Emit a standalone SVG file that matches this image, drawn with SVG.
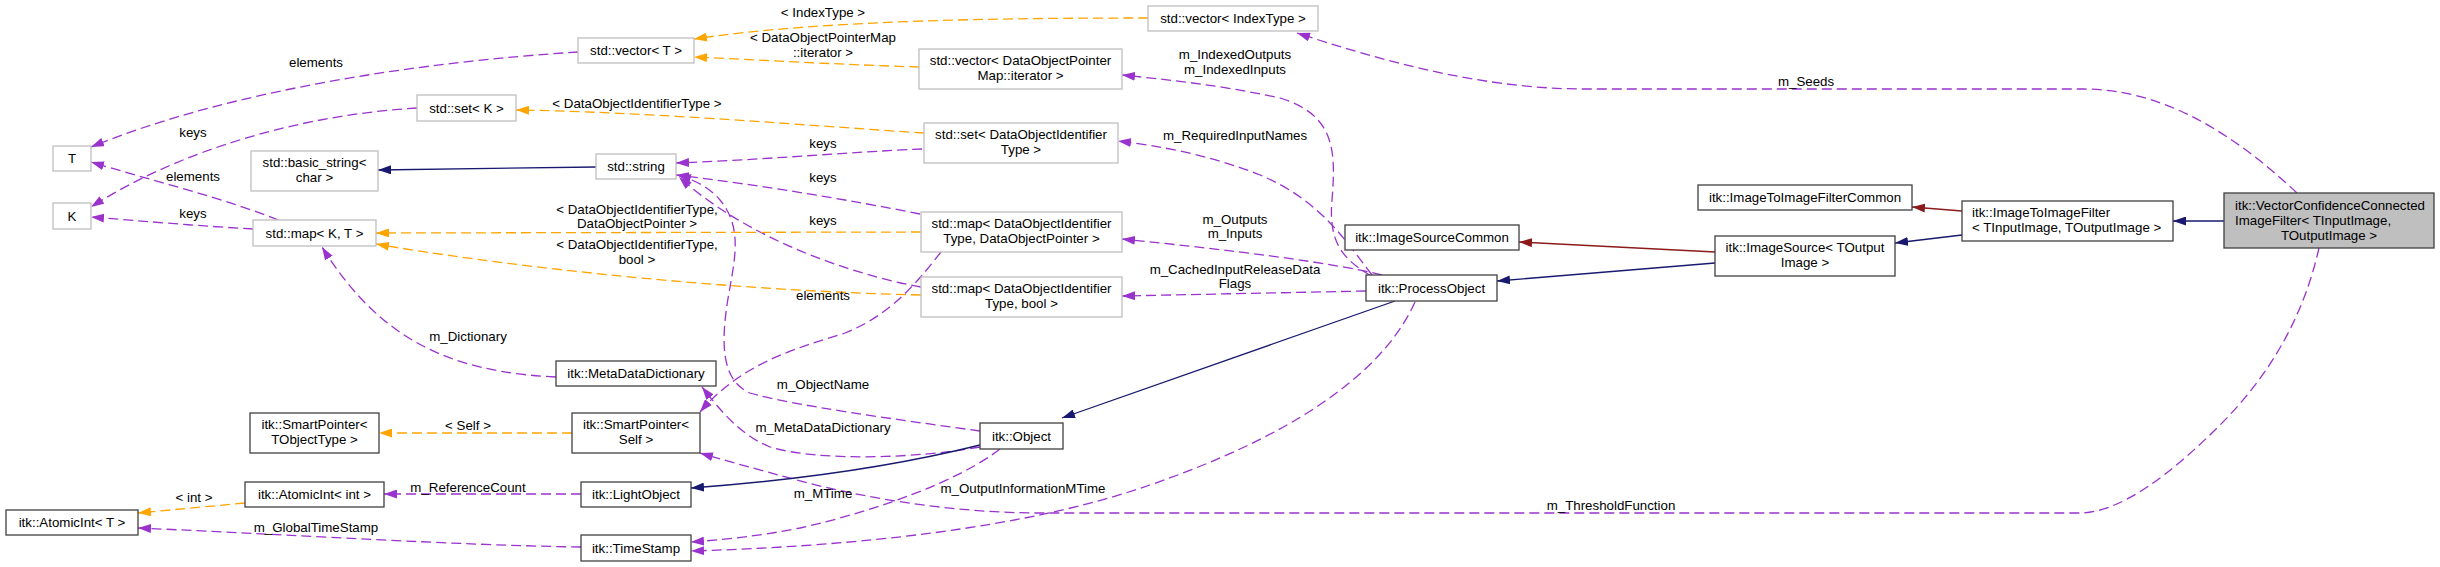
<svg xmlns="http://www.w3.org/2000/svg" width="2440" height="567" viewBox="0 0 2440 567">
<style>
text{font-family:"Liberation Sans",Arial,Helvetica,sans-serif;font-size:13.3px;fill:#000}
.c{text-anchor:middle}
rect{fill:#fff;stroke-width:1.3}
.g rect{stroke:#bfbfbf}
.k rect{stroke:#404040}
.sel rect{fill:#bfbfbf;stroke:#404040}
#edges path{fill:none;stroke-width:1.3}
.p{stroke:#9a32cd;stroke-dasharray:10,5}
.o{stroke:#ffa500;stroke-dasharray:10,5}
.bl{stroke:#191970}
.r{stroke:#8b1a1a}
</style>
<defs>
<marker id="mp" viewBox="0 0 13 9" refX="13" refY="4.5" markerWidth="13" markerHeight="9" orient="auto" markerUnits="userSpaceOnUse"><path d="M0,0 L13,4.5 L0,9 z" fill="#9a32cd"/></marker>
<marker id="mo" viewBox="0 0 13 9" refX="13" refY="4.5" markerWidth="13" markerHeight="9" orient="auto" markerUnits="userSpaceOnUse"><path d="M0,0 L13,4.5 L0,9 z" fill="#ffa500"/></marker>
<marker id="mb" viewBox="0 0 13 9" refX="13" refY="4.5" markerWidth="13" markerHeight="9" orient="auto" markerUnits="userSpaceOnUse"><path d="M0,0 L13,4.5 L0,9 z" fill="#191970"/></marker>
<marker id="mr" viewBox="0 0 13 9" refX="13" refY="4.5" markerWidth="13" markerHeight="9" orient="auto" markerUnits="userSpaceOnUse"><path d="M0,0 L13,4.5 L0,9 z" fill="#8b1a1a"/></marker>
</defs>
<rect x="0" y="0" width="2440" height="567" style="fill:#fff;stroke:none"/>

<g id="edges">
<path class="o" marker-end="url(#mo)" d="M1148,18 C1000,18 820,20 694,39"/>
<text class="c" x="823" y="17">&lt; IndexType &gt;</text>
<path class="o" marker-end="url(#mo)" d="M919,67 C850,65 760,60 694,57"/>
<text class="c" x="823" y="42">&lt; DataObjectPointerMap</text>
<text class="c" x="823" y="57">::iterator &gt;</text>
<path class="p" marker-end="url(#mp)" d="M578,52 C420,62 230,90 91,147"/>
<text class="c" x="316" y="67">elements</text>
<path class="p" marker-end="url(#mp)" d="M417,108 C300,115 180,150 91,207"/>
<text class="c" x="193" y="137">keys</text>
<path class="p" marker-end="url(#mp)" d="M278,220 C230,200 150,180 91,162"/>
<text class="c" x="193" y="181">elements</text>
<path class="p" marker-end="url(#mp)" d="M253,229 C200,226 140,221 91,217"/>
<text class="c" x="193" y="218">keys</text>
<path class="bl" marker-end="url(#mb)" d="M596,167 L378,170"/>
<path class="o" marker-end="url(#mo)" d="M924,133 C800,125 650,112 516,110"/>
<text class="c" x="637" y="108">&lt; DataObjectIdentifierType &gt;</text>
<path class="p" marker-end="url(#mp)" d="M922,149 C850,152 760,160 676,163"/>
<text class="c" x="823" y="148">keys</text>
<path class="p" marker-end="url(#mp)" d="M920,214 C850,200 760,185 676,175"/>
<text class="c" x="823" y="182">keys</text>
<path class="p" marker-end="url(#mp)" d="M921,287 C880,280 760,250 679,177"/>
<text class="c" x="823" y="225">keys</text>
<path class="o" marker-end="url(#mo)" d="M921,232 L376,233"/>
<text class="c" x="637" y="214">&lt; DataObjectIdentifierType,</text>
<text class="c" x="637" y="228">DataObjectPointer &gt;</text>
<path class="o" marker-end="url(#mo)" d="M921,295 C700,290 480,262 376,244"/>
<text class="c" x="637" y="249">&lt; DataObjectIdentifierType,</text>
<text class="c" x="637" y="264">bool &gt;</text>
<path class="p" marker-end="url(#mp)" d="M556,377 C450,372 380,340 322,247"/>
<text class="c" x="468" y="341">m_Dictionary</text>
<path class="p" marker-end="url(#mp)" d="M941,252 C915,285 890,315 845,333 C790,350 740,365 700,412"/>
<text class="c" x="823" y="300">elements</text>
<path class="p" marker-end="url(#mp)" d="M980,431 C900,420 790,405 750,393 C720,380 722,340 727,305 C733,265 745,230 720,200 C710,188 695,180 678,175"/>
<text class="c" x="823" y="389">m_ObjectName</text>
<path class="p" marker-end="url(#mp)" d="M980,447 C920,458 820,462 770,447 C740,435 720,410 702,387"/>
<text class="c" x="823" y="432">m_MetaDataDictionary</text>
<path class="p" marker-end="url(#mp)" d="M2319,248 C2305,310 2275,370 2220,425 C2170,475 2120,513 2079,513 L1040,513 C960,513 870,500 797,480 C760,470 730,462 700,453"/>
<text class="c" x="1611" y="510">m_ThresholdFunction</text>
<path class="bl" marker-end="url(#mb)" d="M980,445 C900,465 800,480 691,488"/>
<path class="p" marker-end="url(#mp)" d="M581,494 L384,494"/>
<text class="c" x="468" y="492">m_ReferenceCount</text>
<path class="o" marker-end="url(#mo)" d="M245,503 L138,513"/>
<text class="c" x="194" y="502">&lt; int &gt;</text>
<path class="p" marker-end="url(#mp)" d="M581,547 C450,545 300,535 138,528"/>
<text class="c" x="316" y="532">m_GlobalTimeStamp</text>
<path class="p" marker-end="url(#mp)" d="M1000,449 C960,480 880,510 800,528 C760,536 720,540 691,542"/>
<text class="c" x="823" y="498">m_MTime</text>
<path class="p" marker-end="url(#mp)" d="M1415,302 C1380,380 1280,440 1150,485 C1050,520 900,545 691,551"/>
<text class="c" x="1023" y="493">m_OutputInformationMTime</text>
<path class="bl" marker-end="url(#mb)" d="M1395,301 L1062,418"/>
<path class="p" marker-end="url(#mp)" d="M1371,276 C1345,260 1328,245 1332,200 C1336,150 1335,115 1280,98 C1220,85 1170,80 1122,75"/>
<text class="c" x="1235" y="59">m_IndexedOutputs</text>
<text class="c" x="1235" y="74">m_IndexedInputs</text>
<path class="p" marker-end="url(#mp)" d="M1372,275 C1345,240 1320,200 1260,175 C1210,155 1160,146 1118,141"/>
<text class="c" x="1235" y="140">m_RequiredInputNames</text>
<path class="p" marker-end="url(#mp)" d="M1382,275 C1330,262 1230,250 1122,239"/>
<text class="c" x="1235" y="224">m_Outputs</text>
<text class="c" x="1235" y="238">m_Inputs</text>
<path class="p" marker-end="url(#mp)" d="M1366,291 L1122,296"/>
<text class="c" x="1235" y="274">m_CachedInputReleaseData</text>
<text class="c" x="1235" y="288">Flags</text>
<path class="r" marker-end="url(#mr)" d="M1715,252 L1519,242"/>
<path class="bl" marker-end="url(#mb)" d="M1715,263 L1497,281"/>
<path class="r" marker-end="url(#mr)" d="M1962,211 L1912,207"/>
<path class="bl" marker-end="url(#mb)" d="M1962,235 L1895,243"/>
<path class="bl" marker-end="url(#mb)" d="M2224,221 L2173,221"/>
<path class="p" marker-end="url(#mp)" d="M2297,193 C2230,130 2160,89 2083,89 L1585,89 C1480,89 1380,60 1297,33"/>
<text class="c" x="1806" y="86">m_Seeds</text>
<path class="o" marker-end="url(#mo)" d="M572,433 L379,433"/>
<text class="c" x="468" y="430">&lt; Self &gt;</text>
</g>

<g id="n_T" class="g"><rect x="53" y="146" width="38" height="25"/><text class="c" x="72" y="163">T</text></g>
<g id="n_K" class="g"><rect x="53" y="203" width="38" height="26"/><text class="c" x="72" y="221">K</text></g>
<g id="n_setK" class="g"><rect x="417" y="95" width="99" height="26"/><text class="c" x="466.5" y="113">std::set&lt; K &gt;</text></g>
<g id="n_basicstring" class="g"><rect x="251" y="151" width="127" height="40"/><text class="c" x="314.5" y="167">std::basic_string&lt;</text><text class="c" x="314.5" y="182">char &gt;</text></g>
<g id="n_mapKT" class="g"><rect x="253" y="220" width="123" height="26"/><text class="c" x="314.5" y="238">std::map&lt; K, T &gt;</text></g>
<g id="n_vectorT" class="g"><rect x="578" y="38" width="116" height="25"/><text class="c" x="636" y="55">std::vector&lt; T &gt;</text></g>
<g id="n_vectorIndex" class="g"><rect x="1148" y="6" width="170" height="25"/><text class="c" x="1233" y="23">std::vector&lt; IndexType &gt;</text></g>
<g id="n_vectorIter" class="g"><rect x="919" y="49" width="203" height="40"/><text class="c" x="1020.5" y="65">std::vector&lt; DataObjectPointer</text><text class="c" x="1020.5" y="80">Map::iterator &gt;</text></g>
<g id="n_setDOIT" class="g"><rect x="924" y="123" width="194" height="40"/><text class="c" x="1021" y="139">std::set&lt; DataObjectIdentifier</text><text class="c" x="1021" y="154">Type &gt;</text></g>
<g id="n_string" class="g"><rect x="596" y="154" width="80" height="25"/><text class="c" x="636" y="171">std::string</text></g>
<g id="n_mapDOP" class="g"><rect x="921" y="212" width="201" height="40"/><text class="c" x="1021.5" y="228">std::map&lt; DataObjectIdentifier</text><text class="c" x="1021.5" y="243">Type, DataObjectPointer &gt;</text></g>
<g id="n_mapBool" class="g"><rect x="921" y="277" width="201" height="40"/><text class="c" x="1021.5" y="293">std::map&lt; DataObjectIdentifier</text><text class="c" x="1021.5" y="308">Type, bool &gt;</text></g>
<g id="n_MetaDataDictionary" class="k"><rect x="556" y="361" width="160" height="25"/><text class="c" x="636" y="378">itk::MetaDataDictionary</text></g>
<g id="n_SmartPointerT" class="k"><rect x="250" y="413" width="129" height="40"/><text class="c" x="314.5" y="429">itk::SmartPointer&lt;</text><text class="c" x="314.5" y="444">TObjectType &gt;</text></g>
<g id="n_SmartPointerSelf" class="k"><rect x="572" y="413" width="128" height="40"/><text class="c" x="636" y="429">itk::SmartPointer&lt;</text><text class="c" x="636" y="444">Self &gt;</text></g>
<g id="n_AtomicIntInt" class="k"><rect x="245" y="482" width="139" height="25"/><text class="c" x="314.5" y="499">itk::AtomicInt&lt; int &gt;</text></g>
<g id="n_AtomicIntT" class="k"><rect x="6" y="510" width="132" height="25"/><text class="c" x="72" y="527">itk::AtomicInt&lt; T &gt;</text></g>
<g id="n_LightObject" class="k"><rect x="581" y="482" width="110" height="25"/><text class="c" x="636" y="499">itk::LightObject</text></g>
<g id="n_TimeStamp" class="k"><rect x="581" y="535" width="110" height="26"/><text class="c" x="636" y="553">itk::TimeStamp</text></g>
<g id="n_Object" class="k"><rect x="980" y="423" width="83" height="26"/><text class="c" x="1021.5" y="441">itk::Object</text></g>
<g id="n_ProcessObject" class="k"><rect x="1366" y="275" width="131" height="26"/><text class="c" x="1431.5" y="293">itk::ProcessObject</text></g>
<g id="n_ImageSourceCommon" class="k"><rect x="1345" y="225" width="174" height="25"/><text class="c" x="1432" y="242">itk::ImageSourceCommon</text></g>
<g id="n_ImageSource" class="k"><rect x="1715" y="236" width="180" height="40"/><text class="c" x="1805" y="252">itk::ImageSource&lt; TOutput</text><text class="c" x="1805" y="267">Image &gt;</text></g>
<g id="n_ImageToImageFilterCommon" class="k"><rect x="1698" y="185" width="214" height="25"/><text class="c" x="1805" y="202">itk::ImageToImageFilterCommon</text></g>
<g id="n_ImageToImageFilter" class="k"><rect x="1962" y="201" width="211" height="40"/><text x="1972" y="217">itk::ImageToImageFilter</text><text x="1972" y="232">&lt; TInputImage, TOutputImage &gt;</text></g>
<g id="n_VectorConfidence" class="sel"><rect x="2224" y="193" width="210" height="55"/><text x="2235" y="210">itk::VectorConfidenceConnected</text><text x="2235" y="225">ImageFilter&lt; TInputImage,</text><text class="c" x="2329" y="240">TOutputImage &gt;</text></g>
</svg>
